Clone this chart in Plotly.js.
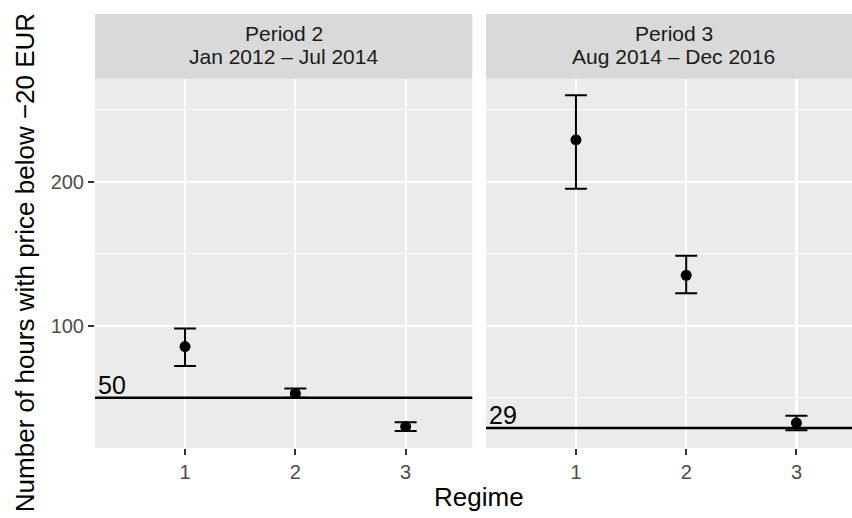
<!DOCTYPE html>
<html>
<head>
<meta charset="utf-8">
<script src="https://cdn.plot.ly/plotly-3.0.1.min.js"></script>
<style>html,body{margin:0;padding:0;background:#fff;}</style>
</head>
<body>
<div id="chart" style="width:852px;height:518px;"></div>
<script>
// ---- data ----
const regimes = [1, 2, 3];
const tickLabels = ["1", "2", "3"];
const p2Mean = [85.5, 53, 30];
const p2Low  = [72, 50, 27];
const p2High = [98, 56.5, 33];
const p3Mean = [229, 135, 32.5];
const p3Low  = [195, 122.5, 27.5];
const p3High = [260, 148.5, 37.5];
const thresholds = [50, 29];
const stripLine1 = ["Period 2", "Period 3"];
const stripLine2 = ["Jan 2012 \u2013 Jul 2014", "Aug 2014 \u2013 Dec 2016"];
const yTitle = "Number of hours with price below \u221220 EUR";
const xTitle = "Regime";

// ---- layout helpers (pixels) ----
const W = 852, H = 518;
const L = 95, R = 0, T = 14, B = 518 - 447.7;
const pw = W - L - R, ph = H - T - B;
const px2x = p => (p - L) / pw;
const py2y = p => (H - B - p) / ph;
const panelTop = py2y(78.7);

const FONT = "Liberation Sans, Arial, Helvetica, sans-serif";

function errTrace(mean, lo, hi, xa, ya) {
  return {
    type: "scatter", mode: "markers", x: regimes, y: mean,
    xaxis: xa, yaxis: ya,
    marker: {color: "black", size: 11},
    error_y: {type: "data", symmetric: false,
      array: hi.map((v, i) => v - mean[i]),
      arrayminus: mean.map((v, i) => v - lo[i]),
      color: "black", thickness: 2, width: 11},
    showlegend: false, hoverinfo: "skip"
  };
}

const traces = [
  errTrace(p2Mean, p2Low, p2High, "x", "y"),
  errTrace(p3Mean, p3Low, p3High, "x2", "y2")
];

const yr = [15.14, 271.4];
const xr1 = [0.184, 3.604];
const xr2 = [0.184, 3.504];

const xBase = {
  tickvals: regimes, ticktext: tickLabels,
  showgrid: true, gridcolor: "#FFFFFF", gridwidth: 2.2,
  zeroline: false, showline: false,
  ticks: "outside", ticklen: 6, tickwidth: 2, tickcolor: "#333333",
  tickfont: {family: FONT, size: 20, color: "#4D4D4D"},
  fixedrange: true
};
const yBase = {
  range: yr, tickvals: [100, 200], ticktext: ["100", "200"],
  showgrid: true, gridcolor: "#FFFFFF", gridwidth: 2.2,
  minor: {tickvals: [50, 150, 250], showgrid: true, gridcolor: "#FFFFFF", gridwidth: 1.1, ticks: ""},
  zeroline: false, showline: false,
  ticks: "outside", ticklen: 6, tickwidth: 2, tickcolor: "#333333",
  tickfont: {family: FONT, size: 20, color: "#4D4D4D"},
  domain: [0, panelTop], fixedrange: true
};

const p1 = [px2x(95), px2x(472.3)];
const p2 = [px2x(486), 1];

const layout = {
  width: W, height: H,
  margin: {l: L, r: R, t: T, b: B, pad: 0},
  paper_bgcolor: "#FFFFFF", plot_bgcolor: "#EBEBEB",
  font: {family: FONT},
  showlegend: false,
  xaxis: Object.assign({}, xBase, {domain: p1, range: xr1, anchor: "y"}),
  xaxis2: Object.assign({}, xBase, {domain: p2, range: xr2, anchor: "y2"}),
  yaxis: Object.assign({}, yBase, {anchor: "x"}),
  yaxis2: Object.assign({}, yBase, {anchor: "x2", showticklabels: false, ticks: ""}),
  shapes: [
    {type: "rect", xref: "x domain", yref: "paper", x0: 0, x1: 1, y0: panelTop, y1: 1,
     fillcolor: "#D9D9D9", line: {width: 0}, layer: "below"},
    {type: "rect", xref: "x2 domain", yref: "paper", x0: 0, x1: 1, y0: panelTop, y1: 1,
     fillcolor: "#D9D9D9", line: {width: 0}, layer: "below"},
    {type: "line", xref: "x domain", yref: "y", x0: 0, x1: 1, y0: thresholds[0], y1: thresholds[0],
     line: {color: "black", width: 2.5}},
    {type: "line", xref: "x2 domain", yref: "y2", x0: 0, x1: 1, y0: thresholds[1], y1: thresholds[1],
     line: {color: "black", width: 2.5}}
  ],
  annotations: [
    {xref: "x domain", yref: "y", x: 0.002, y: thresholds[0], xanchor: "left", yanchor: "bottom",
     text: String(thresholds[0]), showarrow: false, font: {family: FONT, size: 25, color: "black"}, yshift: -3},
    {xref: "x2 domain", yref: "y2", x: 0.002, y: thresholds[1], xanchor: "left", yanchor: "bottom",
     text: String(thresholds[1]), showarrow: false, font: {family: FONT, size: 25, color: "black"}, yshift: -3},
    {xref: "paper", yref: "paper", x: px2x(283.6), y: py2y(33), xanchor: "center", yanchor: "middle",
     text: stripLine1[0], showarrow: false, font: {family: FONT, size: 21, color: "#1A1A1A"}},
    {xref: "paper", yref: "paper", x: px2x(283.6), y: py2y(56), xanchor: "center", yanchor: "middle",
     text: stripLine2[0], showarrow: false, font: {family: FONT, size: 21, color: "#1A1A1A"}},
    {xref: "paper", yref: "paper", x: px2x(673.5), y: py2y(33), xanchor: "center", yanchor: "middle",
     text: stripLine1[1], showarrow: false, font: {family: FONT, size: 21, color: "#1A1A1A"}},
    {xref: "paper", yref: "paper", x: px2x(673.5), y: py2y(56), xanchor: "center", yanchor: "middle",
     text: stripLine2[1], showarrow: false, font: {family: FONT, size: 21, color: "#1A1A1A"}},
    {xref: "paper", yref: "paper", x: px2x(479), y: py2y(497), xanchor: "center", yanchor: "middle",
     text: xTitle, showarrow: false, font: {family: FONT, size: 26, color: "black"}},
    {xref: "paper", yref: "paper", x: px2x(25), y: py2y(263), xanchor: "center", yanchor: "middle",
     text: yTitle, textangle: -90, showarrow: false, font: {family: FONT, size: 26, color: "black"}}
  ]
};

Plotly.newPlot("chart", traces, layout, {staticPlot: true, displayModeBar: false});
</script>
</body>
</html>
